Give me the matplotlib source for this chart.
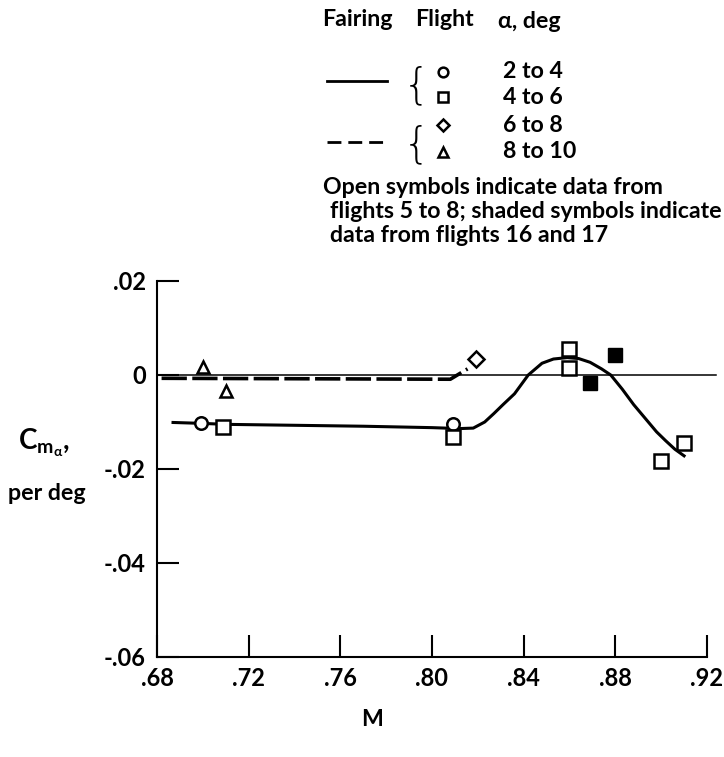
import matplotlib.pyplot as plt
from matplotlib.lines import Line2D

plt.rcParams['font.family'] = ['Lato', 'DejaVu Sans']
plt.rcParams['font.weight'] = 'bold'
plt.rcParams['mathtext.fontset'] = 'custom'
plt.rcParams['mathtext.rm'] = 'Lato:bold'
plt.rcParams['mathtext.it'] = 'Lato:bold'
plt.rcParams['mathtext.bf'] = 'Lato:bold'

W, H = 724, 757

# flight data, Mach number vs pitching-moment slope
mach_circle = [0.699, 0.809]
cm_circle = [-0.0102, -0.0104]
mach_square = [0.709, 0.809, 0.860, 0.860, 0.900, 0.910]
cm_square = [-0.0111, -0.0131, 0.0056, 0.0015, -0.0184, -0.0144]
mach_diamond = [0.819]
cm_diamond = [0.0033]
mach_triangle = [0.700, 0.710]
cm_triangle = [0.0016, -0.0035]
mach_shaded = [0.869, 0.880]
cm_shaded = [-0.0016, 0.0043]

# faired curves
fair_solid_m = [0.687, 0.700, 0.710, 0.740, 0.770, 0.800, 0.812, 0.818, 0.823,
                0.827, 0.831, 0.836, 0.842, 0.848, 0.853, 0.859, 0.864, 0.869,
                0.874, 0.878, 0.883, 0.888, 0.893, 0.898, 0.902, 0.906, 0.910]
fair_solid_cm = [-0.0101, -0.0103, -0.0105, -0.0107, -0.0109, -0.0112, -0.0114,
                 -0.0113, -0.0100, -0.0082, -0.0063, -0.0040, 0.0, 0.0025,
                 0.0034, 0.0037, 0.0035, 0.0027, 0.0013, 0.0, -0.0030, -0.0063,
                 -0.0092, -0.0121, -0.0140, -0.0158, -0.0172]
fair_dash_m = [0.682, 0.808, 0.8155]
fair_dash_cm = [-0.0007, -0.0009, 0.0013]

xticks = [0.68, 0.72, 0.76, 0.80, 0.84, 0.88, 0.92]
xlabels = ['.68', '.72', '.76', '.80', '.84', '.88', '.92']
yticks = [-0.06, -0.04, -0.02, 0.0, 0.02]
ylabels = ['-.06', '-.04', '-.02', '0', '.02']

fig = plt.figure(figsize=(W / 100, H / 100), dpi=100)
ax = fig.add_axes([157 / W, 100 / H, 550 / W, 376 / H])

# zero reference line
ax.plot([0.68, 0.924], [0, 0], color='black', lw=1.1, clip_on=False)

ax.plot(fair_solid_m, fair_solid_cm, color='black', lw=2.2)
ax.plot(fair_dash_m, fair_dash_cm, color='black', lw=2.6, linestyle=(0, (7, 1.5)))

mk = dict(linestyle='none', color='black', markerfacecolor='white',
          markeredgewidth=1.8, zorder=5)
ax.plot(mach_circle, cm_circle, marker='o', markersize=9, **mk)
ax.plot(mach_square, cm_square, marker='s', markersize=9.5, **mk)
ax.plot(mach_diamond, cm_diamond, marker='D', markersize=8, **mk)
ax.plot(mach_triangle, cm_triangle, marker='^', markersize=9, **mk)
ax.plot(mach_shaded, cm_shaded, marker='s', markersize=10, linestyle='none',
        color='black', zorder=5)

ax.set_xlim(0.68, 0.92)
ax.set_ylim(-0.06, 0.02)
ax.set_xticks(xticks, xlabels)
ax.set_yticks(yticks, ylabels)
ax.spines['top'].set_visible(False)
ax.spines['right'].set_visible(False)
for s in ['left', 'bottom']:
    ax.spines[s].set_linewidth(1.5)
ax.tick_params(direction='in', length=16, width=1.5, labelsize=17)
ax.tick_params(axis='x', pad=7)
ax.tick_params(axis='y', pad=8)


def fxy(x, y):
    return x / W, 1 - y / H


tkw = dict(fontsize=16.7, transform=fig.transFigure)

# axis labels
fig.text(*fxy(372, 720), 'M', ha='center', va='center', **tkw)
fig.text(*fxy(18, 443), r'C$_{\mathrm{m}_{\alpha}}$,', ha='left', va='center',
         fontsize=20, transform=fig.transFigure)
fig.text(*fxy(47, 494), 'per deg', ha='center', va='center', **tkw)

# key
fig.text(*fxy(322, 20), 'Fairing', ha='left', va='center', **tkw)
fig.text(*fxy(415, 20), 'Flight', ha='left', va='center', **tkw)
fig.text(*fxy(498, 22), 'α, deg', ha='left', va='center', **tkw)

alpha_rows = ['2 to 4', '4 to 6', '6 to 8', '8 to 10']
row_y = [72, 97, 125, 152]
row_marker = ['o', 's', 'D', '^']
row_size = [7, 7, 6.5, 7.5]
for lab, y, m, ms in zip(alpha_rows, row_y, row_marker, row_size):
    fig.text(*fxy(503, y), lab, ha='left', va='center', **tkw)
    fig.add_artist(Line2D([443 / W], [1 - y / H], marker=m, markersize=ms,
                          color='black', markerfacecolor='white',
                          markeredgewidth=1.8, transform=fig.transFigure))

fig.add_artist(Line2D([327 / W, 387 / W], [1 - 81 / H, 1 - 81 / H],
                      color='black', lw=2, transform=fig.transFigure))
fig.add_artist(Line2D([327 / W, 387 / W], [1 - 142 / H, 1 - 142 / H],
                      color='black', lw=2, linestyle=(0, (5, 2.5)),
                      transform=fig.transFigure))
for yb in [86, 145]:
    fig.text(*fxy(416, yb), '{', ha='center', va='center', fontsize=31,
             fontweight='light', family='DejaVu Sans',
             transform=fig.transFigure)

note = ['Open symbols indicate data from',
        'flights 5 to 8; shaded symbols indicate',
        'data from flights 16 and 17']
fig.text(*fxy(323, 188), note[0], ha='left', va='center', **tkw)
fig.text(*fxy(330, 212), note[1], ha='left', va='center', **tkw)
fig.text(*fxy(330, 235), note[2], ha='left', va='center', **tkw)

fig.savefig('out.png', dpi=100)
